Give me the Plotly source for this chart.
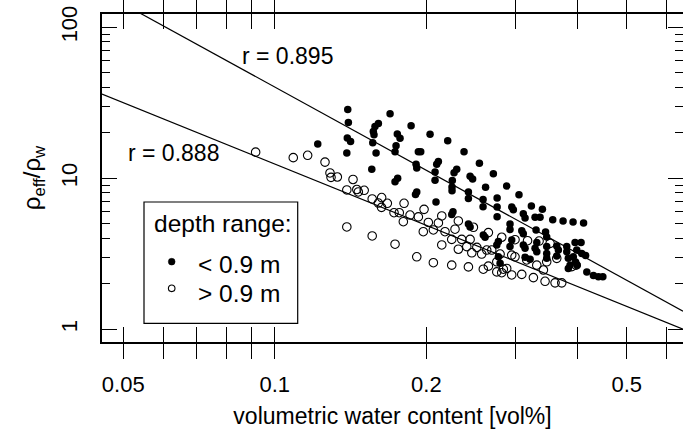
import plotly.graph_objects as go

# ---- data: filled (< 0.9 m) ----
shallow_theta = [0.1396, 0.1694, 0.1400, 0.1606, 0.1581, 0.1569, 0.1574, 0.1865, 0.2034, 0.1751,
                 0.1773, 0.1393, 0.1414, 0.2205, 0.1217, 0.1565, 0.1741, 0.1733, 0.1390, 0.1589,
                 0.1928, 0.1949, 0.2376, 0.2113, 0.2097, 0.2549, 0.1908, 0.1914, 0.1558, 0.2298,
                 0.2270, 0.2081, 0.2081, 0.2717, 0.1754, 0.1733, 0.2443, 0.2471, 0.2252, 0.2249,
                 0.2249, 0.2622, 0.2888, 0.1914, 0.1903, 0.2424, 0.2424, 0.2592, 0.2592, 0.2764,
                 0.2764, 0.2764, 0.3055, 0.2955, 0.2977, 0.3233, 0.3400, 0.2090, 0.2259, 0.2246,
                 0.3116, 0.3141, 0.3288, 0.3364, 0.3565, 0.3737, 0.3912, 0.4105, 0.2424, 0.2443,
                 0.2932, 0.2932, 0.2595, 0.2616, 0.3094, 0.3116, 0.3303, 0.3450, 0.3468, 0.2780,
                 0.2760, 0.2955, 0.2932, 0.3116, 0.3141, 0.3314, 0.3288, 0.3314, 0.3468, 0.3468,
                 0.3631, 0.3658, 0.3631, 0.3801, 0.3801, 0.3828, 0.3948, 0.4058, 0.3979, 0.4071,
                 0.4143, 0.3917, 0.3957, 0.3985, 0.3468, 0.2780, 0.2802, 0.3141, 0.3214, 0.3858,
                 0.3828, 0.4166, 0.4294, 0.4393, 0.4483]
shallow_ratio = [28.6, 26.8, 23.4, 23.1, 22.0, 20.4, 19.4, 22.3, 19.6, 19.65,
                 18.4, 18.5, 17.5, 17.7, 16.9, 17.2, 16.4, 15.0, 14.7, 14.7,
                 15.0, 15.0, 15.0, 12.9, 12.4, 12.6, 12.4, 11.7, 11.5, 11.5,
                 10.9, 11.0, 9.7, 10.7, 10.0, 9.5, 10.3, 9.9, 9.67, 8.76,
                 8.28, 8.72, 8.89, 8.12, 7.81, 8.12, 7.36, 7.24, 6.48, 7.40,
                 6.45, 5.57, 7.78, 6.45, 6.19, 6.55, 6.23, 6.97, 6.01, 5.76,
                 5.83, 5.46, 5.52, 5.52, 5.32, 5.21, 5.14, 5.06, 4.98, 4.76,
                 4.98, 4.58, 4.21, 4.07, 4.50, 4.29, 4.55, 4.41, 4.08, 3.81,
                 3.62, 3.90, 3.53, 3.62, 3.44, 3.75, 3.44, 3.26, 3.53, 3.18,
                 3.56, 3.35, 3.06, 3.53, 3.26, 2.95, 3.76, 3.76, 3.35, 3.18,
                 3.08, 3.02, 2.79, 2.66, 2.95, 3.02, 2.74, 3.00, 2.91, 2.66,
                 2.53, 2.40, 2.27, 2.23, 2.23]

# ---- data: open (> 0.9 m) ----
deep_theta = [0.0916, 0.1088, 0.1162, 0.1258, 0.1287, 0.1293, 0.1331, 0.1430, 0.1390, 0.1455,
              0.1465, 0.1505, 0.1561, 0.1630, 0.1606, 0.1629, 0.1673, 0.1806, 0.1979, 0.1767,
              0.1725, 0.1856, 0.1928, 0.2146, 0.1800, 0.2018, 0.2113, 0.2315, 0.1390, 0.1561,
              0.1733, 0.1972, 0.2065, 0.2178, 0.2280, 0.2480, 0.2656, 0.2351, 0.2443, 0.2246,
              0.2823, 0.3000, 0.3177, 0.3349, 0.3522, 0.2146, 0.2315, 0.2406, 0.2519, 0.2462,
              0.2576, 0.2697, 0.2802, 0.2636, 0.2760, 0.2955, 0.3000, 0.3165, 0.3314, 0.3468,
              0.3631, 0.3416, 0.1914, 0.2065, 0.2246, 0.2424, 0.2595, 0.2656, 0.2760, 0.2844,
              0.2823, 0.2888, 0.2955, 0.3094, 0.3263, 0.3442, 0.3603, 0.3715, 0.3889, 0.3966]
deep_ratio = [14.9, 13.7, 14.2, 12.8, 10.85, 10.15, 10.2, 9.82, 8.37, 8.43,
              8.12, 8.33, 7.30, 7.46, 6.86, 6.42, 6.83, 6.83, 6.23, 5.92,
              5.92, 5.71, 5.55, 5.63, 5.16, 5.10, 5.06, 5.22, 4.76, 4.15,
              3.66, 4.43, 4.55, 4.43, 4.60, 4.74, 4.37, 3.94, 3.94, 3.94,
              4.07, 3.92, 3.86, 3.84, 3.71, 3.62, 3.39, 3.53, 3.49, 3.21,
              3.15, 3.35, 3.15, 3.35, 2.80, 3.10, 3.02, 2.88, 2.66, 2.80,
              2.95, 2.47, 3.02, 2.76, 2.66, 2.59, 2.50, 2.62, 2.40, 2.50,
              2.37, 2.53, 2.29, 2.31, 2.20, 2.08, 2.03, 2.03, 2.60, 2.66]

# ---- regression fits: log10(ratio) = a + b*log10(theta) ----
fit_shallow = {"a": -0.226, "b": -1.83, "r": "r = 0.895"}
fit_deep = {"a": -0.255, "b": -1.35, "r": "r = 0.888"}

legend_title = "depth range:"
legend_labels = ["&lt; 0.9 m", "&gt; 0.9 m"]

x_tickvals = [0.05, 0.06, 0.07, 0.08, 0.09, 0.1, 0.2, 0.3, 0.4, 0.5, 0.6]
x_ticktext = ["0.05", "", "", "", "", "0.1", "0.2", "", "", "0.5", ""]
y_major = [1, 10, 100]
y_minor = [2, 3, 4, 5, 6, 7, 8, 9, 20, 30, 40, 50, 60, 70, 80, 90]

XLOG = [-1.3433, -0.1892]
YLOG = [-0.0841, 2.0881]

FONT = "Liberation Sans, Arial, Helvetica, sans-serif"

# plot-area geometry (px) used for paper-coordinate placement of the legend box
L, R, T, B = 102, 683, 14, 342
def px(xp):
    return (xp - L) / (R - L)
def py(yp):
    return (B - yp) / (B - T)

fig = go.Figure()

# regression lines
line_x = [10 ** XLOG[0], 10 ** XLOG[1]]
for fit in (fit_shallow, fit_deep):
    ly = [10 ** (fit["a"] + fit["b"] * XLOG[0]), 10 ** (fit["a"] + fit["b"] * XLOG[1])]
    fig.add_trace(go.Scatter(x=line_x, y=ly, mode="lines",
                             line=dict(color="black", width=1.2),
                             showlegend=False, hoverinfo="skip"))

fig.add_trace(go.Scatter(x=shallow_theta, y=shallow_ratio, mode="markers", name=legend_labels[0],
                         marker=dict(symbol="circle", size=7.5, color="black",
                                     line=dict(width=0)), showlegend=False))
fig.add_trace(go.Scatter(x=deep_theta, y=deep_ratio, mode="markers", name=legend_labels[1],
                         marker=dict(symbol="circle-open", size=8.5, color="black",
                                     line=dict(width=1.1, color="black")), showlegend=False))

# helper trace for the right-side tick axis
fig.add_trace(go.Scatter(x=[0.1], y=[10], yaxis="y2", mode="markers",
                         marker=dict(opacity=0), showlegend=False, hoverinfo="skip"))

# r annotations
fig.add_annotation(text=fit_shallow["r"], xref="paper", yref="paper", x=px(287.5), y=py(56),
                   xanchor="center", yanchor="middle", showarrow=False,
                   font=dict(family=FONT, size=23, color="black"))
fig.add_annotation(text=fit_deep["r"], xref="paper", yref="paper", x=px(173.3), y=py(153.3),
                   xanchor="center", yanchor="middle", showarrow=False,
                   font=dict(family=FONT, size=23, color="black"))

# manual legend (box, title, symbols, labels)
fig.add_shape(type="rect", xref="paper", yref="paper",
              x0=px(144), x1=px(297.7), y0=py(323.3), y1=py(202),
              line=dict(color="black", width=1.2), fillcolor="white", layer="above")
fig.add_annotation(text=legend_title, xref="paper", yref="paper", x=px(151.5), y=py(223),
                   xanchor="left", yanchor="middle", showarrow=False,
                   font=dict(family=FONT, size=24.5, color="black"))
for lab, yc in zip(legend_labels, (264, 293)):
    fig.add_annotation(text=lab, xref="paper", yref="paper", x=px(196), y=py(yc),
                       xanchor="left", yanchor="middle", showarrow=False,
                       font=dict(family=FONT, size=24.5, color="black"))
fig.add_shape(type="circle", xref="paper", yref="paper",
              x0=px(171.7 - 3.4), x1=px(171.7 + 3.4), y0=py(261.7 + 3.4), y1=py(261.7 - 3.4),
              line=dict(color="black", width=0.5), fillcolor="black", layer="above")
fig.add_shape(type="circle", xref="paper", yref="paper",
              x0=px(171.7 - 3.3), x1=px(171.7 + 3.3), y0=py(288.3 + 3.3), y1=py(288.3 - 3.3),
              line=dict(color="black", width=1.1), fillcolor="white", layer="above")

fig.update_layout(
    width=683, height=437,
    margin=dict(l=L, r=683 - R, t=T, b=437 - B),
    paper_bgcolor="white", plot_bgcolor="white",
    font=dict(family=FONT, size=22, color="black"),
    showlegend=False,
    xaxis=dict(type="log", range=XLOG, showgrid=False, zeroline=False,
               showline=True, linecolor="black", linewidth=1.5, mirror="allticks",
               ticks="inside", ticklen=15, tickwidth=1.2, tickcolor="black",
               tickvals=x_tickvals, ticktext=x_ticktext, ticklabelstandoff=22,
               tickfont=dict(size=22),
               title=dict(text="volumetric water content [vol%]", font=dict(size=23), standoff=12)),
    yaxis=dict(type="log", range=YLOG, showgrid=False, zeroline=False,
               showline=True, linecolor="black", linewidth=1.5,
               ticks="inside", ticklen=15, tickwidth=1.2, tickcolor="black",
               tickvals=y_major, ticktext=["1", "10", "100"], tickangle=-90,
               ticklabelstandoff=14, tickfont=dict(size=22),
               minor=dict(tickvals=y_minor, ticks="inside", ticklen=8, tickwidth=1.2,
                          tickcolor="black", showgrid=False),
               title=dict(text="ρ<sub>eff</sub>/ρ<sub>w</sub>", font=dict(size=24), standoff=10)),
    yaxis2=dict(type="log", range=YLOG, overlaying="y", side="right", anchor="x",
                showgrid=False, zeroline=False, showline=False,
                ticks="inside", ticklen=15, tickwidth=1.2, tickcolor="black",
                tickvals=y_major, showticklabels=False,
                minor=dict(tickvals=y_minor, ticks="inside", ticklen=8, tickwidth=1.2,
                           tickcolor="black", showgrid=False)),
)

fig.write_html("out.html")
